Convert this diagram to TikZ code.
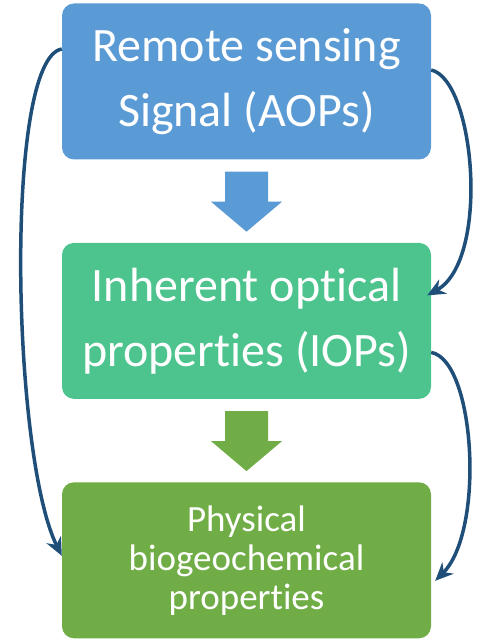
\documentclass[tikz,border=0pt]{standalone}
\usepackage{fontspec}
\setmainfont{Carlito}[Ligatures=NoCommon,RawFeature={-liga;-clig;-dlig}]
\usetikzlibrary{arrows.meta,calc,positioning}
\definecolor{aopblue}{HTML}{5B9BD5}
\definecolor{iopgreen}{HTML}{4DC48E}
\definecolor{bgcolive}{HTML}{70AD47}
\definecolor{linkblue}{HTML}{1F4E79}
\tikzstyle{stage}=[
  rectangle,
  rounded corners=12pt,
  minimum width=369pt,
  minimum height=156pt,
  inner sep=0pt,
  text=white,
  align=center,
  font={\fontsize{48}{65}\selectfont},
]
\tikzstyle{link}=[
  draw=linkblue,
  line width=3.5pt,
  -{Stealth[length=18pt,width=16pt]},
]
\tikzset{
  node distance=83pt,
}

\begin{document}
\begin{tikzpicture}[x=1pt,y=1pt]
      \useasboundingbox (0,0) rectangle (481,640);
      \node (aop) [stage, fill=aopblue] at (246.5,558.5) {Remote sensing\\Signal (AOPs)};
      \node (iop) [stage, fill=iopgreen, below=of aop] {Inherent optical\\properties (IOPs)};
      \node (bgc) [stage, fill=bgcolive, below=of iop,
        font={\fontsize{37}{39}\selectfont}] {Physical\\biogeochemical\\properties};
      %%
      \coordinate [below=12pt of aop] (A);
      \coordinate [below=12pt of iop] (B);
      \fill [aopblue, shift={(A)}] (-21.5,0) -- (21.5,0) -- (21.5,-30) -- (35.5,-30)
      -- (0,-60) -- (-35.5,-30) -- (-21.5,-30) -- cycle;
      \fill [bgcolive, shift={(B)}] (-21.5,0) -- (21.5,0) -- (21.5,-30) -- (35.5,-30)
      -- (0,-60) -- (-35.5,-30) -- (-21.5,-30) -- cycle;
      %%
      \draw [link] ($(aop.east)+(0,11.5)$) .. controls +(44,-10) and +(63,35)
      .. ($(iop.east)+(-4,25.5)$);
      \draw [link] ($(iop.east)+(0,-31.5)$) .. controls +(44,-8) and +(50,50)
      .. ($(bgc.east)+(4,-20.5)$);
      \draw [link] ($(aop.west)+(0,32.5)$) .. controls +(-58,-10) and +(-50,100)
      .. ($(bgc.west)+(0,4.5)$);
    \end{tikzpicture}
\end{document}
